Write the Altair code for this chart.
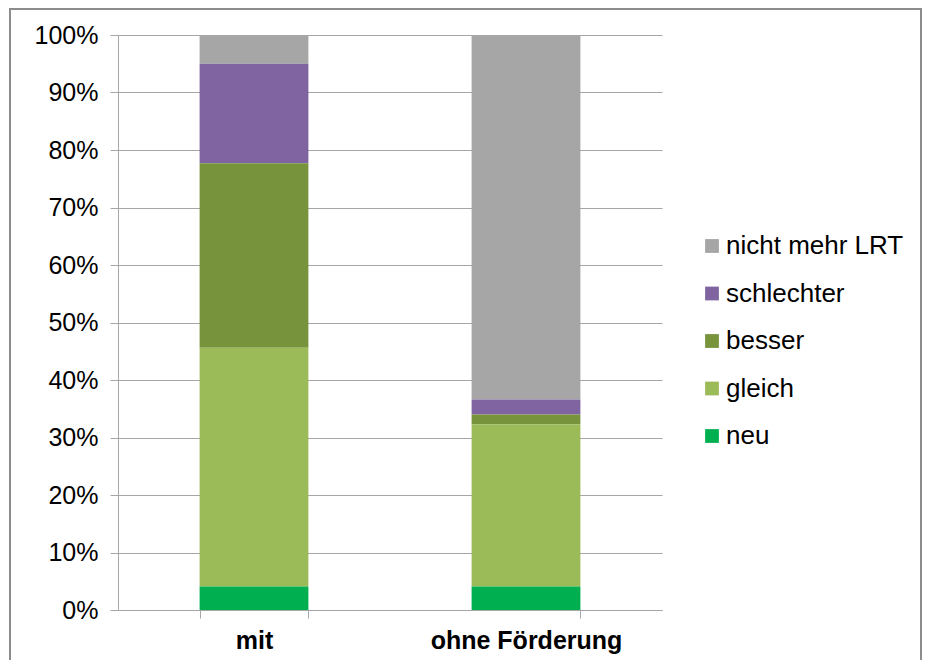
import altair as alt
import pandas as pd

groups = ["mit", "ohne Förderung"]
categories = ["nicht mehr LRT", "schlechter", "besser", "gleich", "neu"]
colors = ["#a6a6a6", "#8064a2", "#77933c", "#9bbb59", "#00b050"]
stack_order = [4, 3, 2, 1, 0]  # neu at the bottom

mit_values = [5.0, 17.3, 32.1, 41.5, 4.1]
ohne_values = [63.4, 2.6, 1.7, 28.2, 4.1]

rows = []
for g, vals in zip(groups, [mit_values, ohne_values]):
    for c, v, o in zip(categories, vals, stack_order):
        rows.append({"Gruppe": g, "Kategorie": c, "Wert": v, "ord": o})
df = pd.DataFrame(rows)

FONT = "Liberation Sans"
GRID = "#a6a6a6"

bars = alt.Chart(df).mark_bar().encode(
    x=alt.X("Gruppe:N", sort=groups, title=None,
            scale=alt.Scale(paddingInner=0.6, paddingOuter=0.3),
            axis=alt.Axis(labelAngle=0, labelFont=FONT, labelFontSize=25,
                          labelFontWeight="bold", labelColor="#000000",
                          labelLimit=0,
                          tickBand="extent", ticks=True, tickSize=8,
                          tickColor=GRID, domainColor=GRID, labelPadding=10)),
    y=alt.Y("Wert:Q", stack="zero", title=None,
            scale=alt.Scale(domain=[0, 100], nice=False),
            axis=alt.Axis(values=list(range(0, 101, 10)), labelExpr="datum.value + '%'",
                          labelFont=FONT, labelFontSize=25, labelColor="#000000",
                          labelLimit=0,
                          tickSize=8, tickColor=GRID, domainColor=GRID,
                          gridColor=GRID, grid=True, labelPadding=12)),
    color=alt.Color("Kategorie:N",
                    scale=alt.Scale(domain=categories, range=colors),
                    legend=alt.Legend(title=None, orient="none", legendX=581, legendY=198,
                                      symbolType="square", symbolSize=190,
                                      symbolStrokeWidth=0,
                                      labelFont=FONT, labelFontSize=26,
                                      labelColor="#000000", rowPadding=21.5,
                                      labelOffset=1, padding=0, labelLimit=0)),
    order=alt.Order("ord:Q", sort="ascending"),
)

frame = alt.Chart(pd.DataFrame({"a": [0]})).mark_rect(
    fillOpacity=0, stroke="#8c8c8c", strokeWidth=2
).encode(
    x=alt.value(-108), x2=alt.value(803), y=alt.value(-26), y2=alt.value(640)
)

chart = alt.layer(frame, bars).properties(
    width=544, height=575,
    autosize=alt.AutoSizeParams(type="none"),
    padding={"left": 110, "top": 27, "right": 261, "bottom": 50},
    background="white",
).configure_view(stroke=None)

chart.save("out.html", embed_options={"renderer": "svg", "actions": False})
